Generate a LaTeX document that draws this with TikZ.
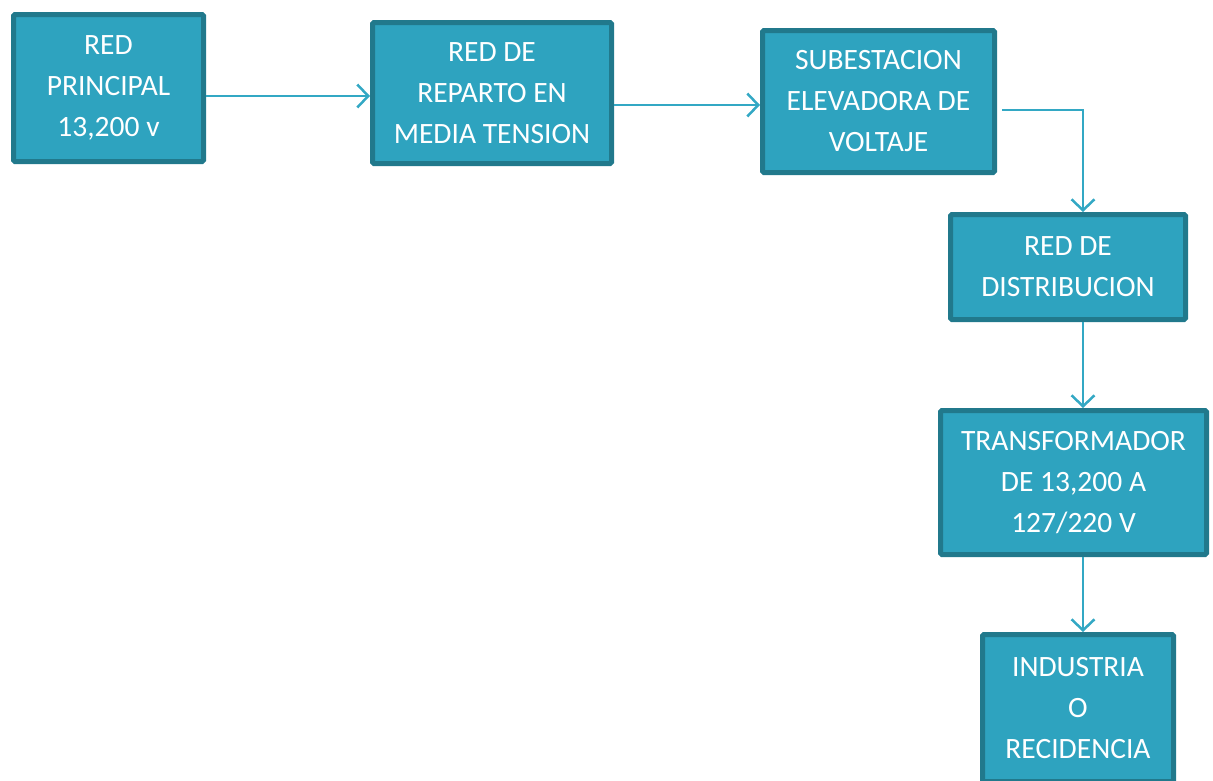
\documentclass[tikz,border=0pt]{standalone}
\usepackage{fontspec}
\setmainfont{Carlito}
\usetikzlibrary{arrows.meta}
\definecolor{boxfill}{HTML}{2EA3BF}
\definecolor{boxline}{HTML}{21798C}
\definecolor{arrcol}{HTML}{33A8C4}
\begin{document}
\begin{tikzpicture}[x=1pt,y=-1pt,
  flowbox/.style={draw=boxline,fill=boxfill,line width=5pt,rounded corners=1.5pt,
    inner sep=0pt,align=center,text=white,
    font=\fontsize{29.5}{41}\selectfont},
  arr/.style={draw=arrcol,line width=2.5pt,-{Straight Barb[length=11pt,width=23pt,line width=2.5pt]}}]
\useasboundingbox (0,0) rectangle (1213,780);
\node[flowbox,minimum width=190pt,minimum height=147pt] (b1) at (108.5,88) {RED\\PRINCIPAL\\13,200 v};
\node[flowbox,minimum width=239pt,minimum height=141pt] (b2) at (492,93) {RED DE\\REPARTO EN\\MEDIA TENSION};
\node[flowbox,minimum width=232pt,minimum height=142pt] (b3) at (878.5,101.5) {SUBESTACION\\ELEVADORA DE\\VOLTAJE};
\node[flowbox,minimum width=235pt,minimum height=105pt] (b4) at (1068,267) {RED DE\\DISTRIBUCION};
\node[flowbox,minimum width=266pt,minimum height=144pt] (b5) at (1073.5,482.5) {TRANSFORMADOR\\DE 13,200 A\\127/220 V};
\node[flowbox,minimum width=191pt,minimum height=147pt] (b6) at (1078,708) {INDUSTRIA\\O\\RECIDENCIA};
\draw[arr] ([yshift=-8pt]b1.east) -- ([yshift=-8pt]b1.east -| b2.west);
\draw[arr] ([yshift=-12pt]b2.east) -- ([yshift=-12pt]b2.east -| b3.west);
\draw[arr] ([xshift=5pt,yshift=-8.5pt]b3.east) -| ([xshift=15pt]b4.north);
\draw[arr] ([xshift=15pt]b4.south) -- ([xshift=15pt]b4.south |- b5.north);
\draw[arr] ([xshift=9.5pt]b5.south) -- ([xshift=9.5pt]b5.south |- b6.north);
\end{tikzpicture}
\end{document}
